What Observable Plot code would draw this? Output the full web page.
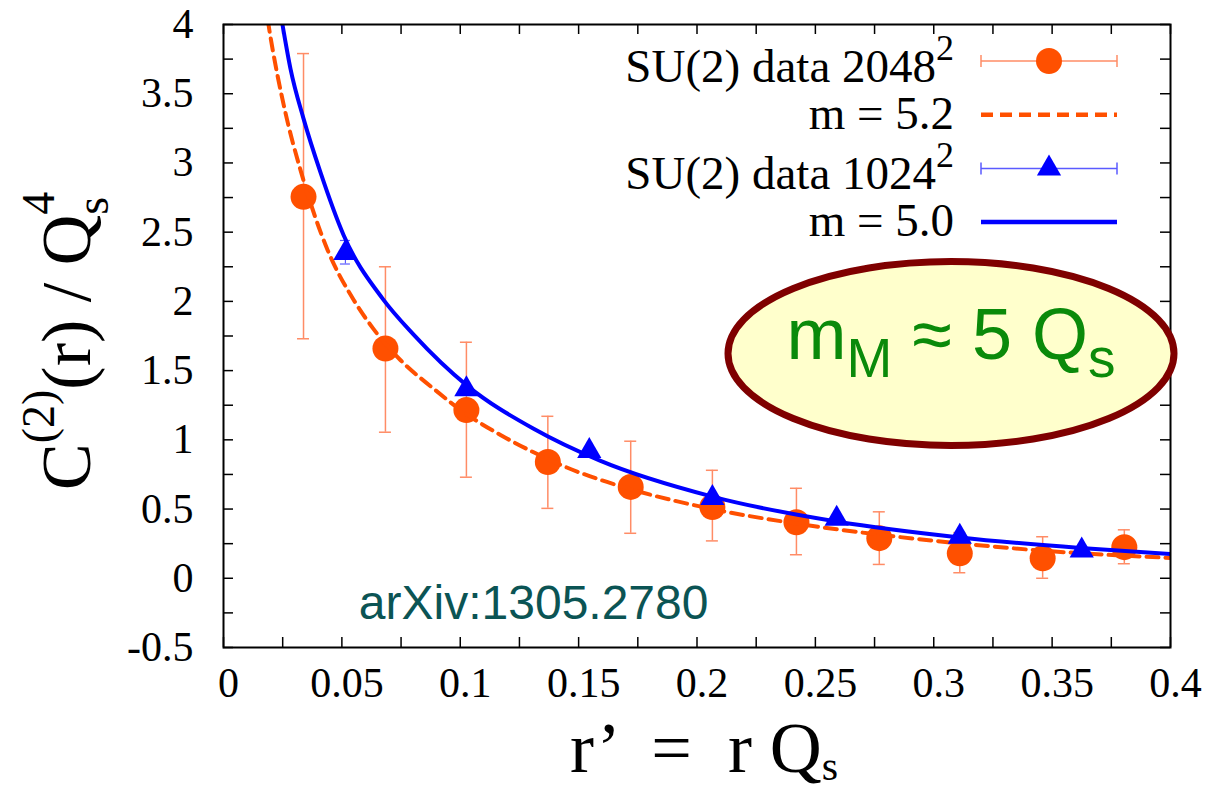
<!DOCTYPE html>
<html><head><meta charset="utf-8">
<script src="https://cdn.jsdelivr.net/npm/d3@7"></script>
<script src="https://cdn.jsdelivr.net/npm/@observablehq/plot@0.6"></script>
<style>html,body{margin:0;padding:0;background:#fff;} svg{display:block;}</style>
</head><body><div id="chart"></div>
<script>
// ---- data ----
// SU(2) data 2048^2 (orange circles)
const rData2048 = [0.0338, 0.0684, 0.1026, 0.137, 0.172, 0.2065, 0.242, 0.277, 0.311, 0.346, 0.3805];
const cData2048 = [2.755, 1.66, 1.215, 0.84, 0.66, 0.515, 0.405, 0.29, 0.18, 0.145, 0.225];
const cLo2048   = [1.73, 1.055, 0.73, 0.505, 0.325, 0.27, 0.17, 0.10, 0.04, 0.0, 0.105];
const cHi2048   = [3.79, 2.25, 1.705, 1.17, 0.99, 0.78, 0.65, 0.48, 0.33, 0.30, 0.35];
// SU(2) data 1024^2 (blue triangles)
const rData1024 = [0.0515, 0.1026, 0.1545, 0.2065, 0.259, 0.311, 0.3625];
const cData1024 = [2.35, 1.365, 0.92, 0.58, 0.43, 0.30, 0.20];
const cLo1024   = [2.27, 1.345, 0.90, 0.565, 0.415, 0.29, 0.19];
const cHi1024   = [2.44, 1.385, 0.94, 0.595, 0.445, 0.31, 0.21];
// fit curve m = 5.2 (orange dashed)
const rFit52 = [0.0175, 0.019, 0.0262, 0.0325, 0.044, 0.055, 0.0634, 0.0748, 0.0887, 0.1014, 0.117, 0.131, 0.145, 0.159, 0.173, 0.2065, 0.242, 0.277, 0.311, 0.347, 0.381, 0.4];
const cFit52 = [4.17, 4.0, 3.36, 2.95, 2.37, 2.01, 1.80, 1.575, 1.37, 1.20, 1.035, 0.91, 0.80, 0.712, 0.638, 0.50, 0.395, 0.315, 0.252, 0.198, 0.163, 0.147];
// fit curve m = 5.0 (blue solid)
const rFit50 = [0.023, 0.0249, 0.0283, 0.0338, 0.041, 0.0507, 0.0672, 0.0803, 0.103, 0.131, 0.159, 0.2065, 0.259, 0.311, 0.362, 0.4];
const cFit50 = [4.19, 4.0, 3.68, 3.32, 2.93, 2.48, 2.02, 1.76, 1.39, 1.08, 0.85, 0.59, 0.41, 0.295, 0.219, 0.175];
// ticks
const xTickMarks = [0, 0.025, 0.05, 0.075, 0.1, 0.125, 0.15, 0.175, 0.2, 0.225, 0.25, 0.275, 0.3, 0.325, 0.35, 0.375, 0.4];
const xTickLabels = [0, 0.05, 0.1, 0.15, 0.2, 0.25, 0.3, 0.35, 0.4];
const yTickMarks = [-0.5, -0.25, 0, 0.25, 0.5, 0.75, 1, 1.25, 1.5, 1.75, 2, 2.25, 2.5, 2.75, 3, 3.25, 3.5, 3.75, 4];
const yTickLabels = [-0.5, 0, 0.5, 1, 1.5, 2, 2.5, 3, 3.5, 4];
// annotations (data coordinates)
const noteArxiv = {x: 0.131, y: -0.18, text: "arXiv:1305.2780"};
const noteMass = {x: 0.3075, y: 1.62};

// ---- tables for the library ----
const pts2048 = rData2048.map((r, i) => ({r, c: cData2048[i], lo: cLo2048[i], hi: cHi2048[i]}));
const pts1024 = rData1024.map((r, i) => ({r, c: cData1024[i], lo: cLo1024[i], hi: cHi1024[i]}));
const fit52 = rFit52.map((r, i) => ({r, c: cFit52[i]}));
const fit50 = rFit50.map((r, i) => ({r, c: cFit50[i]}));

const W = 1220, H = 790, mL = 223, mR = 50, mT = 24, mB = 143;
const fw = W - mL - mR, fh = H - mT - mB;
const ORANGE = "#ff5000", ORANGE_ERR = "#ff8c66", BLUE = "#0000ff", BLUE_ERR = "#5a5aff";
const SERIF = "'Liberation Serif', 'Times New Roman', serif";
const SANS = "'Liberation Sans', Arial, sans-serif";

const plot = Plot.plot({
  width: W, height: H,
  marginLeft: mL, marginRight: mR, marginTop: mT, marginBottom: mB,
  style: {fontFamily: SERIF, background: "#fff", color: "#000"},
  x: {domain: [0, 0.4]},
  y: {domain: [-0.5, 4]},
  marks: [
    Plot.text([noteArxiv], {x: "x", y: "y", text: "text", fontFamily: SANS, fontSize: 48, fill: "#0b5454"}),
    // inward ticks on all four sides
    Plot.tickX(xTickMarks, {x: d => d, insetTop: fh - 10, stroke: "#000", strokeWidth: 1.5}),
    Plot.tickX(xTickMarks, {x: d => d, insetBottom: fh - 10, stroke: "#000", strokeWidth: 1.5}),
    Plot.tickY(yTickMarks, {y: d => d, insetRight: fw - 10, stroke: "#000", strokeWidth: 1.5}),
    Plot.tickY(yTickMarks, {y: d => d, insetLeft: fw - 10, stroke: "#000", strokeWidth: 1.5}),
    Plot.axisX({ticks: xTickLabels, tickSize: 0, tickPadding: 20, fontSize: 42, tickFormat: d => String(d), label: null, dx: 5}),
    Plot.axisY({ticks: yTickLabels, tickSize: 0, tickPadding: 30, fontSize: 42, tickFormat: d => String(d), label: null}),
    // 2048^2 data
    Plot.ruleX(pts2048, {x: "r", y1: "lo", y2: "hi", stroke: ORANGE_ERR, strokeWidth: 1.5}),
    Plot.ruleY(pts2048, {y: "lo", x1: "r", x2: "r", insetLeft: -6, insetRight: -6, stroke: ORANGE_ERR, strokeWidth: 1.5}),
    Plot.ruleY(pts2048, {y: "hi", x1: "r", x2: "r", insetLeft: -6, insetRight: -6, stroke: ORANGE_ERR, strokeWidth: 1.5}),
    Plot.dot(pts2048, {x: "r", y: "c", r: 13, fill: ORANGE}),
    Plot.line(fit52, {x: "r", y: "c", stroke: ORANGE, strokeWidth: 4, strokeDasharray: "12,7", curve: "monotone-x", clip: true}),
    // 1024^2 data
    Plot.ruleX(pts1024, {x: "r", y1: "lo", y2: "hi", stroke: BLUE_ERR, strokeWidth: 1.2}),
    Plot.ruleY(pts1024, {y: "lo", x1: "r", x2: "r", insetLeft: -5, insetRight: -5, stroke: BLUE_ERR, strokeWidth: 1.2}),
    Plot.ruleY(pts1024, {y: "hi", x1: "r", x2: "r", insetLeft: -5, insetRight: -5, stroke: BLUE_ERR, strokeWidth: 1.2}),
    Plot.dot(pts1024, {x: "r", y: "c", r: 9, symbol: "triangle", fill: BLUE}),
    Plot.line(fit50, {x: "r", y: "c", stroke: BLUE, strokeWidth: 4, curve: "monotone-x", clip: true}),
    Plot.frame({stroke: "#000", strokeWidth: 2})
  ]
});
document.getElementById("chart").appendChild(plot);

const svg = d3.select(plot);
const sx = plot.scale("x"), sy = plot.scale("y");

// ---- legend (top right inside the frame) ----
const legendItems = [
  {main: "SU(2) data 2048", sup: "2", kind: "circle"},
  {main: "m = 5.2", sup: null, kind: "dash"},
  {main: "SU(2) data 1024", sup: "2", kind: "tri"},
  {main: "m = 5.0", sup: null, kind: "solid"}
];
const lg = svg.append("g");
const textRight = W - mR - 216, sx1 = W - mR - 189, sx2 = W - mR - 53, sc = (sx1 + sx2) / 2;
legendItems.forEach((it, i) => {
  const ly = mT + 37 + i * 53.7;
  const base = ly + (it.sup ? 21 : 14);
  const t = lg.append("text").attr("x", textRight).attr("y", base).attr("text-anchor", "end")
    .attr("font-family", SERIF).attr("font-size", 47).attr("fill", "#000");
  t.append("tspan").text(it.main);
  if (it.sup) t.append("tspan").attr("font-size", 36).attr("dy", -22).text(it.sup);
  if (it.kind === "circle" || it.kind === "tri") {
    const col = it.kind === "circle" ? ORANGE_ERR : BLUE_ERR;
    lg.append("line").attr("x1", sx1).attr("x2", sx2).attr("y1", ly).attr("y2", ly).attr("stroke", col).attr("stroke-width", 1.5);
    [sx1, sx2].forEach(x => lg.append("line").attr("x1", x).attr("x2", x).attr("y1", ly - 6).attr("y2", ly + 6).attr("stroke", col).attr("stroke-width", 1.5));
    if (it.kind === "circle") lg.append("circle").attr("cx", sc).attr("cy", ly).attr("r", 13).attr("fill", ORANGE);
    else lg.append("path").attr("transform", `translate(${sc},${ly})`).attr("d", d3.symbol(d3.symbolTriangle, Math.PI * 81)()).attr("fill", BLUE);
  } else {
    lg.append("line").attr("x1", sx1).attr("x2", sx2).attr("y1", ly).attr("y2", ly)
      .attr("stroke", it.kind === "dash" ? ORANGE : BLUE).attr("stroke-width", 4.5)
      .attr("stroke-dasharray", it.kind === "dash" ? "12,7" : null);
  }
});

// ---- axis titles ----
const yt = svg.append("text").attr("transform", `translate(90,490) rotate(-90)`).attr("text-anchor", "start")
  .attr("font-family", SERIF).attr("font-size", 70).attr("fill", "#000");
yt.append("tspan").text("C");
yt.append("tspan").attr("font-size", 46).attr("dy", -36).text("(2)");
yt.append("tspan").attr("dy", 36).text("(r) / Q");
yt.append("tspan").attr("font-size", 46).attr("dy", 18).text("s");
yt.append("tspan").attr("font-size", 46).attr("dx", -18).attr("dy", -54).text("4");

const xt = svg.append("text").attr("x", 570).attr("y", 772).attr("text-anchor", "start")
  .style("white-space", "pre").attr("xml:space", "preserve")
  .attr("font-family", SERIF).attr("font-size", 72).attr("fill", "#000");
xt.append("tspan").text("r\u2019  =  r Q");
xt.append("tspan").attr("font-size", 42).attr("dy", 8).text("s");

// ---- highlighted note ----
const cx = sx.apply(noteMass.x), cy = sy.apply(noteMass.y);
svg.append("ellipse").attr("cx", cx).attr("cy", cy).attr("rx", 223).attr("ry", 92)
  .attr("fill", "#ffffcc").attr("stroke", "#7f0000").attr("stroke-width", 7);
const mt = svg.append("text").attr("x", cx).attr("y", cy + 6).attr("text-anchor", "middle")
  .attr("font-family", SANS).attr("font-size", 72).attr("fill", "#0a8a0a");
mt.append("tspan").text("m");
mt.append("tspan").attr("font-size", 55).attr("dy", 18).text("M");
mt.append("tspan").attr("dy", -18).text(" \u2248 5 Q");
mt.append("tspan").attr("font-size", 55).attr("dy", 18).text("s");
</script>
</body></html>
